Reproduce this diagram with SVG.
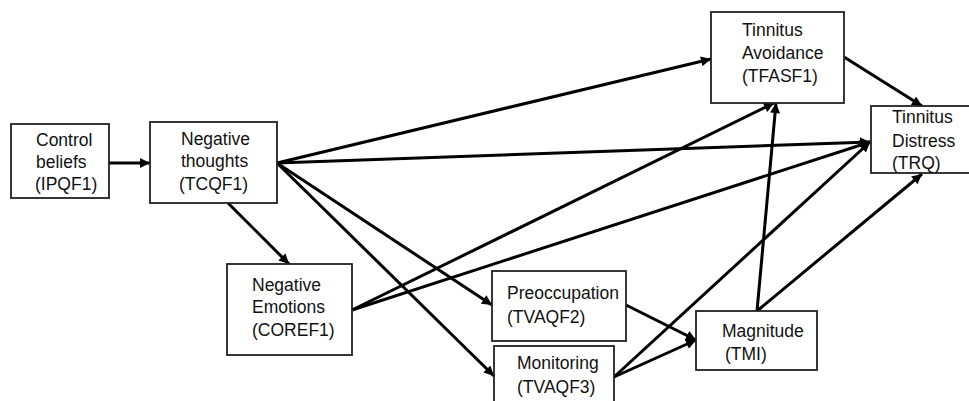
<svg xmlns="http://www.w3.org/2000/svg" width="969" height="401" viewBox="0 0 969 401">
<defs>
<marker id="ah" viewBox="0 0 10 10" refX="10" refY="5" markerWidth="12" markerHeight="10" markerUnits="userSpaceOnUse" orient="auto">
<path d="M0,0 L10,5 L0,10 z" fill="#000"/>
</marker>
<style>
.box{fill:#fff;stroke:#222;stroke-width:1.8}
.t{font-family:"Liberation Sans",Arial,sans-serif;font-size:17.5px;fill:#111}
.c line{stroke:#000;stroke-width:3;marker-end:url(#ah)}
</style>
</defs>
<rect width="969" height="401" fill="#fff"/>
<g class="c" id="connectors">
<line x1="109" y1="163" x2="150" y2="163"/>
<line x1="277" y1="163" x2="711" y2="59"/>
<line x1="277" y1="163" x2="870" y2="142"/>
<line x1="228" y1="203" x2="289" y2="264"/>
<line x1="277" y1="163" x2="492" y2="305"/>
<line x1="277" y1="163" x2="494" y2="376"/>
<line x1="352" y1="310" x2="774" y2="103"/>
<line x1="352" y1="310" x2="870" y2="142"/>
<line x1="626" y1="305" x2="696" y2="340"/>
<line x1="614" y1="377" x2="696" y2="340"/>
<line x1="614" y1="377" x2="870" y2="142"/>
<line x1="757" y1="311" x2="776" y2="103"/>
<line x1="757" y1="311" x2="922" y2="174"/>
<line x1="844" y1="57" x2="922" y2="106"/>
</g>
<g id="control">
<rect class="box" x="11" y="124" width="98" height="74"/>
<text class="t" x="36" y="146">Control</text>
<text class="t" x="36" y="168">beliefs</text>
<text class="t" x="35" y="190">(IPQF1)</text>
</g>
<g id="negthoughts">
<rect class="box" x="150" y="122" width="127" height="81"/>
<text class="t" x="181" y="145">Negative</text>
<text class="t" x="181" y="167">thoughts</text>
<text class="t" x="179" y="190">(TCQF1)</text>
</g>
<g id="negemotions">
<rect class="box" x="227" y="264" width="125" height="91"/>
<text class="t" x="252" y="291">Negative</text>
<text class="t" x="252" y="313">Emotions</text>
<text class="t" x="252" y="336">(COREF1)</text>
</g>
<g id="preoccupation">
<rect class="box" x="492" y="271" width="134" height="70"/>
<text class="t" x="507" y="299">Preoccupation</text>
<text class="t" x="507" y="323">(TVAQF2)</text>
</g>
<g id="monitoring">
<rect class="box" x="494" y="346" width="120" height="62"/>
<text class="t" x="517" y="369">Monitoring</text>
<text class="t" x="517" y="393">(TVAQF3)</text>
</g>
<g id="magnitude">
<rect class="box" x="696" y="311" width="121" height="59"/>
<text class="t" x="722" y="337">Magnitude</text>
<text class="t" x="725" y="360">(TMI)</text>
</g>
<g id="avoidance">
<rect class="box" x="711" y="12" width="133" height="91"/>
<text class="t" x="742" y="36">Tinnitus</text>
<text class="t" x="742" y="59">Avoidance</text>
<text class="t" x="742" y="82">(TFASF1)</text>
</g>
<g id="distress">
<rect class="box" x="871" y="106" width="110" height="67"/>
<text class="t" x="892" y="123">Tinnitus</text>
<text class="t" x="892" y="147">Distress</text>
<text class="t" x="892" y="169">(TRQ)</text>
</g>
</svg>
